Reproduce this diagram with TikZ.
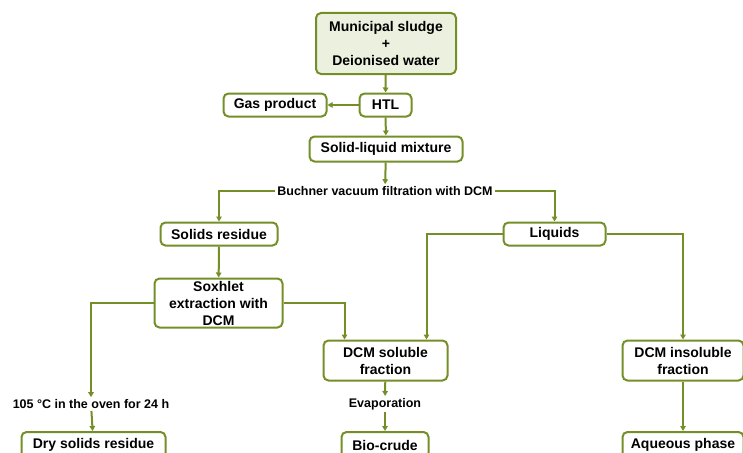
\documentclass[tikz,border=0pt]{standalone}
\usepackage{fontspec}
\setmainfont{Liberation Sans}
\usetikzlibrary{arrows.meta}
\definecolor{edgegreen}{RGB}{116,143,40}
\definecolor{palegreen}{RGB}{235,241,222}

\begin{document}
\begin{tikzpicture}[x=1pt, y=-1pt,
    box/.style={draw=edgegreen, line width=2pt, rounded corners=5pt, fill=white,
        align=center, inner sep=0pt, font=\fontsize{14}{17}\selectfont\bfseries},
    lab/.style={inner sep=2pt, font=\fontsize{12.5}{15}\selectfont\bfseries},
    flow/.style={draw=edgegreen, line width=2pt, -{Triangle[length=5pt,width=5.5pt]}}]
\useasboundingbox (0,0) rectangle (743,452);
\clip (0,0) rectangle (743,452);

\node[box, fill=palegreen, minimum width=140pt, minimum height=61pt] (src) at (386,43.5) {Municipal sludge\\+\\Deionised water};
\node[box, minimum width=52pt, minimum height=23pt] (htl) at (385.5,105) {HTL};
\node[box, minimum width=103pt, minimum height=23pt] (gas) at (275,105) {Gas product};
\node[box, minimum width=153pt, minimum height=25pt] (mix) at (386,149) {Solid-liquid mixture};
\node[lab] (filt) at (385,191) {Buchner vacuum filtration with DCM};
\node[box, minimum width=117pt, minimum height=23pt] (solids) at (219,234) {Solids residue};
\node[box, minimum width=102pt, minimum height=23pt] (liq) at (554.5,234) {Liquids};
\node[box, minimum width=128pt, minimum height=49pt] (sox) at (218.5,303) {Soxhlet\\extraction with\\DCM};
\node[box, minimum width=124pt, minimum height=40pt] (sol) at (385.5,360.5) {DCM soluble\\fraction};
\node[box, minimum width=121pt, minimum height=40pt] (insol) at (683,360.5) {DCM insoluble\\fraction};
\node[lab] (oven) at (91,404) {105 °C in the oven for 24 h};
\node[lab] (evap) at (385,404) {Evaporation};
\node[box, minimum width=144pt, minimum height=26pt] (dry) at (93.5,445) {Dry solids residue};
\node[box, minimum width=87pt, minimum height=26pt] (bio) at (385,445) {Bio-crude};
\node[box, minimum width=121pt, minimum height=26pt] (aq) at (683,445) {Aqueous phase};

\draw[flow] (src) -- (htl);
\draw[flow] (htl) -- (gas);
\draw[flow] (htl) -- (mix);
\draw[flow] (mix) -- (filt);
\draw[flow] (filt.west) -| (solids.north);
\draw[flow] (filt.east) -| (liq.north);
\draw[flow] (solids) -- (sox);
\draw[flow] (sox.west) -| (oven.north);
\draw[flow] (oven) -- (dry);
\draw[flow] (sox.east) -| ([xshift=22pt]sol.north west);
\draw[flow] (liq.west) -| ([xshift=-22pt]sol.north east);
\draw[flow] (liq.east) -| (insol.north);
\draw[flow] (sol) -- (evap);
\draw[flow] (evap) -- (bio);
\draw[flow] (insol) -- (aq);

\end{tikzpicture}
\end{document}
